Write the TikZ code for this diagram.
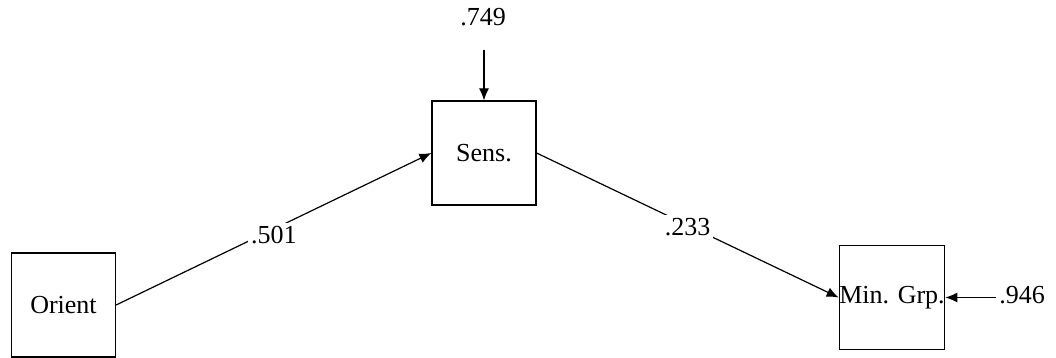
\documentclass[tikz,border=0pt]{standalone}
\usepackage{fontspec}
\setmainfont{Liberation Serif}
\usetikzlibrary{arrows.meta}
\begin{document}
\begin{tikzpicture}[x=0.5pt, y=-0.5pt]
    \tikzset{>={Latex[length=6pt,width=5pt]}}
    \tikzset{var/.style={draw, line width=0.6pt, minimum size=52pt, inner sep=0pt, font=\fontsize{13}{15}\selectfont}}
    \tikzset{coef/.style={fill=white, inner sep=1.5pt, font=\fontsize{13}{15}\selectfont}}
    \useasboundingbox (0,0) rectangle (1056,358);
    \node[var] (orient) at (63.5,305) {Orient};
    \node[var] (sens) at (484,153) {Sens.};
    \node[var] (mingrp) at (892,297.5) {Min. Grp.};
    \node[coef] (e749) at (483,17) {.749};
    \node[coef] (e946) at (1022,295) {.946};
    \coordinate (t749) at (484,50);
    \draw[->, line width=0.6pt] (t749) -- (sens.north);
    \draw[->, line width=0.6pt] (e946.west |- mingrp.east) -- (mingrp.east);
    \draw[->, line width=0.6pt] (orient.east) -- (sens.west) node[coef, midway, yshift=-3pt] {.501};
    \draw[->, line width=0.6pt] (sens.east) -- (mingrp.west) node[coef, midway, yshift=-1pt] {.233};
\end{tikzpicture}
\end{document}
